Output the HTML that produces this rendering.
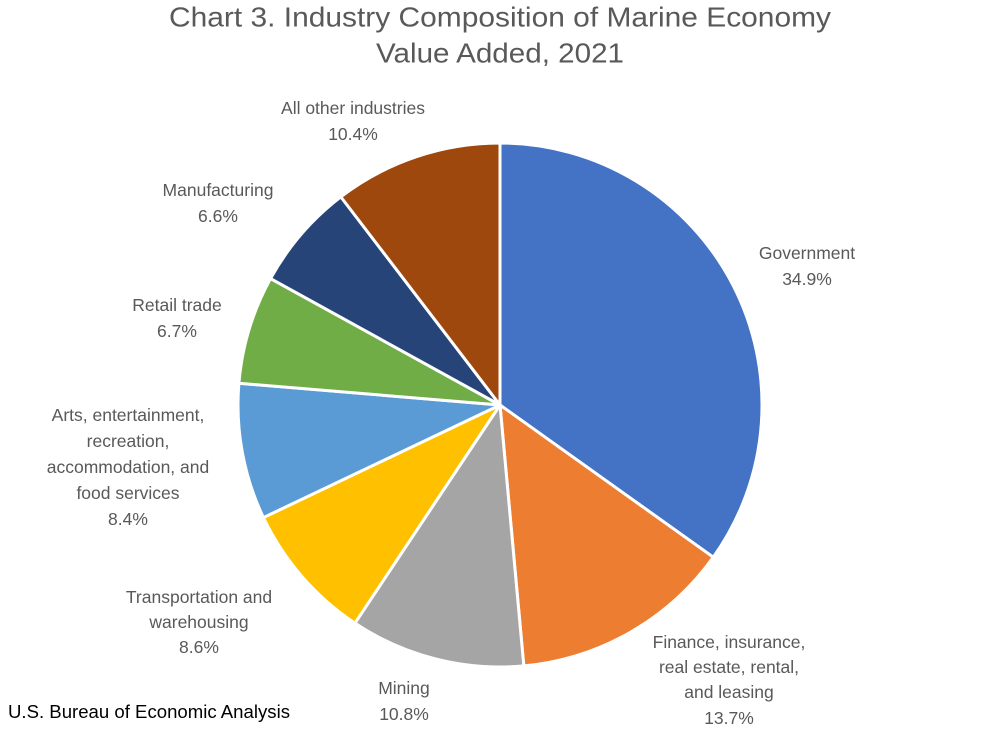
<!DOCTYPE html>
<html><head><meta charset="utf-8"><style>
html,body{margin:0;padding:0;background:#fff;}
svg{display:block;font-family:"Liberation Sans",sans-serif;}
</style></head><body>
<svg id="s" width="1005" height="733" viewBox="0 0 1005 733" xmlns="http://www.w3.org/2000/svg">
<rect width="1005" height="733" fill="#fff"/>
<g id="pie"></g>
<g fill="#595959" font-size="28" text-anchor="middle" dominant-baseline="central">
<text x="500" y="17" textLength="662" lengthAdjust="spacingAndGlyphs">Chart 3. Industry Composition of Marine Economy</text>
<text x="500" y="53" textLength="248" lengthAdjust="spacingAndGlyphs">Value Added, 2021</text>
</g>
<g fill="#595959" font-size="17.5" text-anchor="middle" dominant-baseline="central">
<text x="353" y="108">All other industries</text><text x="353" y="134">10.4%</text>
<text x="218" y="190">Manufacturing</text><text x="218" y="216">6.6%</text>
<text x="177" y="305">Retail trade</text><text x="177" y="331">6.7%</text>
<text x="128" y="415">Arts, entertainment,</text><text x="128" y="441">recreation,</text><text x="128" y="467">accommodation, and</text><text x="128" y="493">food services</text><text x="128" y="519">8.4%</text>
<text x="199" y="597">Transportation and</text><text x="199" y="622">warehousing</text><text x="199" y="647">8.6%</text>
<text x="404" y="688">Mining</text><text x="404" y="714">10.8%</text>
<text x="729" y="642">Finance, insurance,</text><text x="729" y="667">real estate, rental,</text><text x="729" y="692">and leasing</text><text x="729" y="718">13.7%</text>
<text x="807" y="253">Government</text><text x="807" y="279">34.9%</text>
</g>
<text x="8" y="712" font-size="18" fill="#000" dominant-baseline="central" textLength="282" lengthAdjust="spacingAndGlyphs">U.S. Bureau of Economic Analysis</text>
</svg>
<script>
var d=[[34.9,"#4472C4"],[13.7,"#ED7D31"],[10.8,"#A5A5A5"],[8.6,"#FFC000"],[8.4,"#5B9BD5"],[6.7,"#70AD47"],[6.6,"#264478"],[10.4,"#9E480E"]];
var tot=0;d.forEach(function(x){tot+=x[0];});
var cx=500,cy=405,r=262,a=0,h="";
d.forEach(function(x){
 var a2=a+x[0]/tot*2*Math.PI;
 var x1=cx+r*Math.sin(a),y1=cy-r*Math.cos(a),x2=cx+r*Math.sin(a2),y2=cy-r*Math.cos(a2);
 h+='<path d="M'+cx+','+cy+'L'+x1+','+y1+'A'+r+','+r+' 0 '+((a2-a)>Math.PI?1:0)+' 1 '+x2+','+y2+'Z" fill="'+x[1]+'" stroke="#fff" stroke-width="3" stroke-linejoin="round"/>';
 a=a2;});
document.getElementById("pie").innerHTML=h;
</script>
</body></html>
